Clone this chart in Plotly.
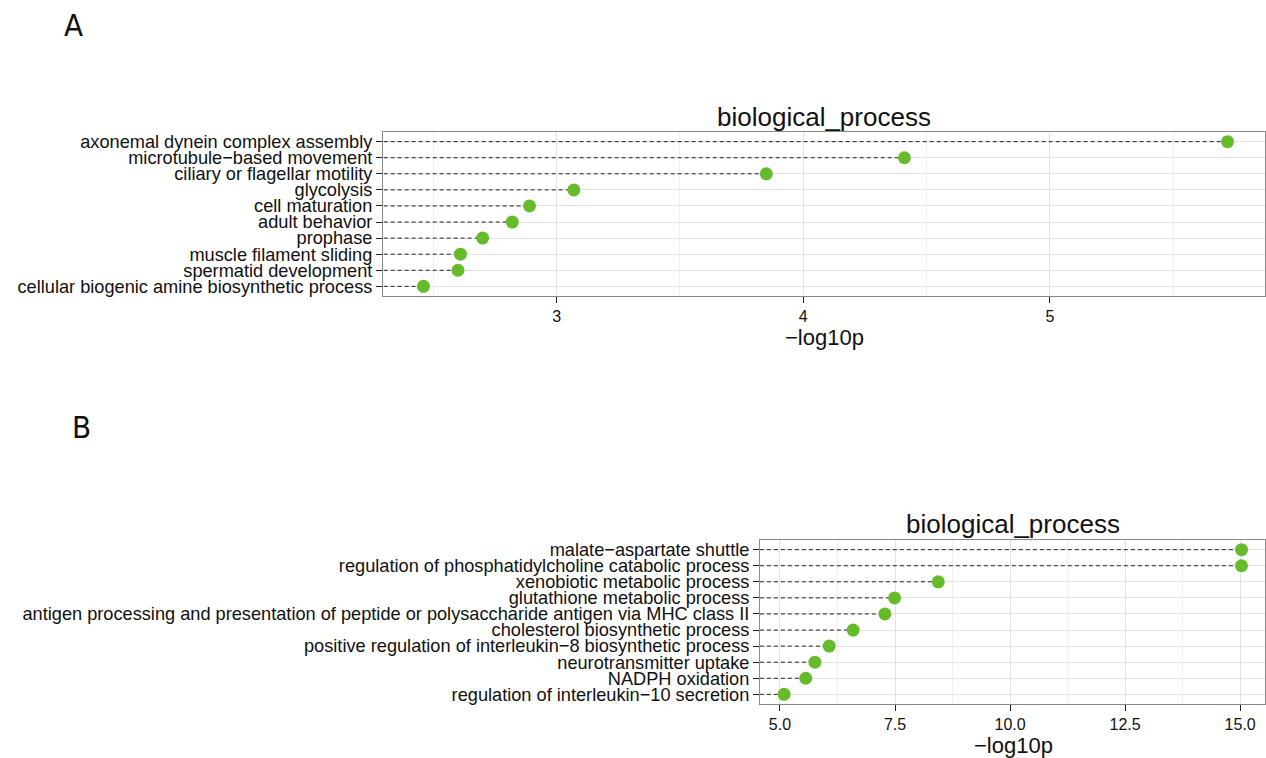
import plotly.graph_objects as go

# ---- data ----
terms_a = [
    "axonemal dynein complex assembly",
    "microtubule\u2212based movement",
    "ciliary or flagellar motility",
    "glycolysis",
    "cell maturation",
    "adult behavior",
    "prophase",
    "muscle filament sliding",
    "spermatid development",
    "cellular biogenic amine biosynthetic process",
]
values_a = [5.72, 4.41, 3.85, 3.07, 2.89, 2.82, 2.70, 2.61, 2.60, 2.46]

terms_b = [
    "malate\u2212aspartate shuttle",
    "regulation of phosphatidylcholine catabolic process",
    "xenobiotic metabolic process",
    "glutathione metabolic process",
    "antigen processing and presentation of peptide or polysaccharide antigen via MHC class II",
    "cholesterol biosynthetic process",
    "positive regulation of interleukin\u22128 biosynthetic process",
    "neurotransmitter uptake",
    "NADPH oxidation",
    "regulation of interleukin\u221210 secretion",
]
values_b = [15.03, 15.03, 8.44, 7.49, 7.28, 6.59, 6.07, 5.76, 5.56, 5.09]

ticks_a = [3, 4, 5]
ticks_b = [5.0, 7.5, 10.0, 12.5, 15.0]
tick_text_b = ["5.0", "7.5", "10.0", "12.5", "15.0"]

GREEN = "#66BB2B"
FONT = "Liberation Sans, Arial, sans-serif"
LABEL_FONT = "Liberation Sans Narrow, DejaVu Sans Condensed, DejaVu Sans"
W, H = 1266, 758

fig = go.Figure()


def add_panel(terms, values, xa, ya):
    xs, ys = [], []
    for t, v in zip(terms, values):
        xs += [0, v, None]
        ys += [t, t, None]
    fig.add_trace(go.Scatter(
        x=xs, y=ys, mode="lines", xaxis=xa, yaxis=ya,
        line=dict(color="#222222", width=1, dash="4px,3px"),
        hoverinfo="skip", showlegend=False,
    ))
    fig.add_trace(go.Scatter(
        x=values, y=terms, mode="markers", xaxis=xa, yaxis=ya,
        marker=dict(color=GREEN, size=13, line=dict(width=0)),
        cliponaxis=False, showlegend=False,
    ))


add_panel(terms_a, values_a, "x", "y")
add_panel(terms_b, values_b, "x2", "y2")


def px_x(p):
    return p / W


def px_y(p):
    return 1 - p / H


axis_common = dict(
    showline=True, mirror=True, linecolor="#8a8a8a", linewidth=1,
    showgrid=True, gridcolor="#e3e3e3", gridwidth=1, zeroline=False,
    ticks="outside", ticklen=6, tickcolor="#222222", tickwidth=1,
)
xfont = dict(family=FONT, size=16, color="#111111")
yfont = dict(family=FONT, size=18.2, color="#111111")

fig.update_layout(
    width=W, height=H,
    margin=dict(l=0, r=0, t=0, b=0),
    paper_bgcolor="white", plot_bgcolor="white",
    showlegend=False,
    xaxis=dict(
        domain=[px_x(383), px_x(1265)], anchor="y",
        range=[2.296, 5.872], tickmode="array", tickvals=ticks_a,
        tickfont=xfont,
        minor=dict(showgrid=True, gridcolor="#f0f0f0", dtick=0.5, tick0=0),
        **axis_common,
    ),
    yaxis=dict(
        domain=[px_y(296), px_y(132)], anchor="x",
        categoryorder="array", categoryarray=terms_a[::-1],
        tickmode="array", tickvals=terms_a, ticktext=terms_a,
        range=[-0.6, 9.6], tickfont=yfont,
        **axis_common,
    ),
    xaxis2=dict(
        domain=[px_x(760), px_x(1265)], anchor="y2",
        range=[4.566, 15.54], tickmode="array", tickvals=ticks_b,
        ticktext=tick_text_b, tickfont=xfont,
        minor=dict(showgrid=True, gridcolor="#f0f0f0", dtick=1.25, tick0=0),
        **axis_common,
    ),
    yaxis2=dict(
        domain=[px_y(704), px_y(540)], anchor="x2",
        categoryorder="array", categoryarray=terms_b[::-1],
        tickmode="array", tickvals=terms_b, ticktext=terms_b,
        range=[-0.6, 9.6], tickfont=yfont,
        **axis_common,
    ),
)

annots = [
    dict(text="A", x=px_x(73), y=px_y(25), font=dict(family=LABEL_FONT, size=31, color="#111111")),
    dict(text="B", x=px_x(82), y=px_y(427), font=dict(family=LABEL_FONT, size=31, color="#111111")),
    dict(text="biological_process", x=px_x(824), y=px_y(117), font=dict(family=FONT, size=26, color="#111111")),
    dict(text="biological_process", x=px_x(1013), y=px_y(524), font=dict(family=FONT, size=26, color="#111111")),
    dict(text="\u2212log10p", x=px_x(824), y=px_y(338), font=dict(family=FONT, size=22, color="#111111")),
    dict(text="\u2212log10p", x=px_x(1013), y=px_y(745), font=dict(family=FONT, size=22, color="#111111")),
]
for a in annots:
    fig.add_annotation(xref="paper", yref="paper", showarrow=False,
                       xanchor="center", yanchor="middle", **a)

fig.write_html(
    "out.html",
    config={"displayModeBar": False},
    post_script="document.body.style.margin='0';document.body.style.overflow='hidden';",
)
